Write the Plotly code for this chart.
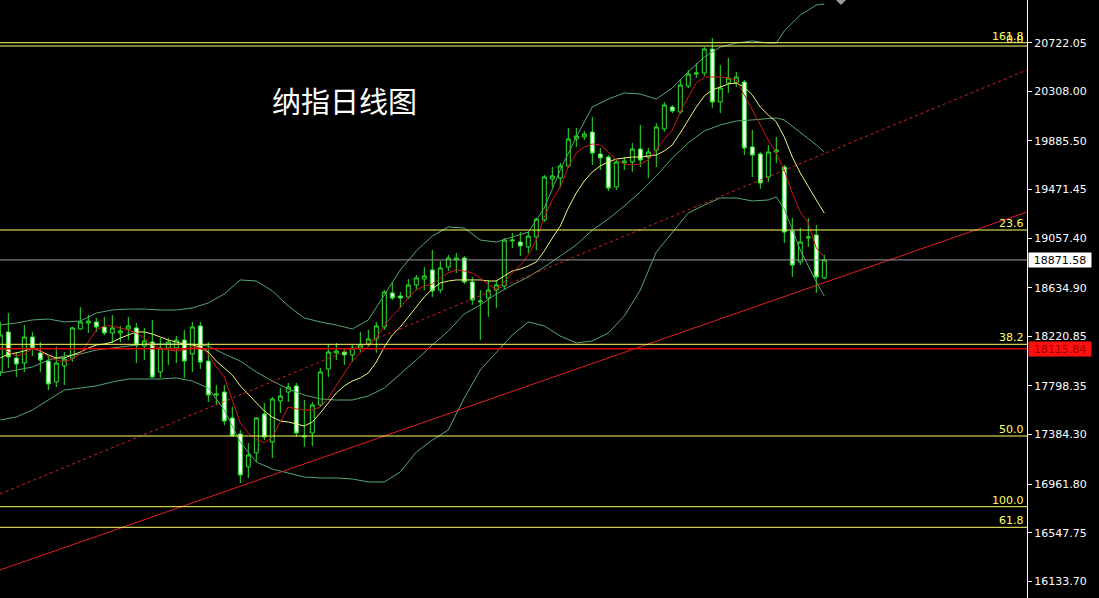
import plotly.graph_objects as go

# ---------------- data ----------------
bars = list(range(104))

open_ = [17917, 18258, 18036, 17993, 18215, 18079, 18010, 17832, 17968, 18036,
         18283, 18334, 18343, 18300, 18249, 18249, 18283, 18292, 18138, 18172,
         17917, 18121, 18121, 18189, 18070, 18309, 18010, 17721, 17746, 17525,
         17389, 17108, 17227, 17559, 17320, 17670, 17746, 17798, 17363, 17397,
         17636, 17942, 18079, 18087, 18062, 18121, 18155, 18198, 18300, 18590,
         18564, 18556, 18658, 18709, 18786, 18615, 18811, 18871, 18888, 18684,
         18513, 18547, 18615, 18649, 19033, 19024, 18982, 19067, 19212, 19561,
         19569, 19672, 19902, 19919, 19961, 19774, 19748, 19493, 19697, 19706,
         19816, 19748, 19808, 19987, 20174, 20132, 20353, 20455, 20464, 20668,
         20217, 20379, 20379, 20387, 19834, 19774, 19578, 19791, 19663, 19118,
         18854, 19058, 19084, 18718]

high = [18343, 18419, 18087, 18317, 18258, 18172, 18053, 18130, 18087, 18300,
        18470, 18402, 18377, 18385, 18402, 18309, 18385, 18334, 18292, 18360,
        18206, 18206, 18223, 18275, 18343, 18343, 18172, 17806, 17806, 17619,
        17423, 17312, 17533, 17653, 17704, 17780, 17823, 17823, 17678, 17661,
        17951, 18147, 18164, 18121, 18147, 18258, 18275, 18343, 18615, 18675,
        18598, 18709, 18743, 18811, 18956, 18862, 18914, 18931, 18905, 18726,
        18615, 18701, 18701, 19058, 19101, 19109, 19109, 19229, 19595, 19663,
        19697, 19995, 19995, 19970, 20089, 19825, 19765, 19723, 19748, 19868,
        20021, 19825, 20038, 20217, 20191, 20413, 20490, 20549, 20685, 20762,
        20532, 20592, 20473, 20404, 19978, 19791, 19851, 19919, 19680, 19229,
        19143, 19229, 19169, 18914]

low = [17883, 17951, 17874, 17917, 18053, 17917, 17763, 17789, 17806, 18002,
       18275, 18249, 18258, 18232, 18164, 18172, 18189, 17993, 18019, 17866,
       17866, 17976, 17993, 17866, 17917, 17942, 17661, 17636, 17465, 17363,
       16971, 17014, 17150, 17337, 17184, 17567, 17661, 17363, 17278, 17286,
       17619, 17874, 18019, 17976, 18002, 18087, 18130, 18079, 18275, 18530,
       18462, 18539, 18615, 18615, 18556, 18590, 18777, 18760, 18666, 18488,
       18189, 18385, 18462, 18615, 18973, 18905, 18931, 18956, 19195, 19493,
       19484, 19655, 19834, 19893, 19680, 19638, 19459, 19467, 19638, 19621,
       19663, 19569, 19663, 19961, 20123, 20115, 20336, 20421, 20438, 20166,
       20123, 20294, 20345, 19765, 19578, 19476, 19535, 19697, 19016, 18726,
       18828, 18982, 18590, 18709]

close = [18232, 18045, 17985, 18215, 18121, 18019, 17815, 17993, 18027, 18292,
         18343, 18351, 18300, 18249, 18292, 18266, 18309, 18147, 18181, 17874,
         18121, 18172, 18189, 18010, 18300, 18002, 17721, 17729, 17499, 17372,
         17039, 17210, 17525, 17363, 17687, 17712, 17789, 17397, 17372, 17636,
         17917, 18087, 18096, 18062, 18121, 18147, 18198, 18309, 18598, 18547,
         18547, 18658, 18718, 18735, 18607, 18803, 18888, 18888, 18684, 18530,
         18522, 18615, 18658, 19041, 19041, 18990, 19075, 19220, 19578, 19587,
         19672, 19902, 19927, 19944, 19782, 19740, 19484, 19706, 19714, 19816,
         19723, 19791, 20004, 20191, 20140, 20362, 20455, 20464, 20668, 20217,
         20336, 20421, 20430, 19825, 19765, 19527, 19791, 19808, 19109, 18828,
         19024, 19067, 18726, 18871.58]

ma_fast = [18130, 18087, 18053, 18070, 18113, 18096, 18045, 18019, 18002, 18027,
           18070, 18172, 18275, 18309, 18309, 18292, 18275, 18249, 18206, 18147,
           18121, 18104, 18096, 18104, 18130, 18121, 18070, 17959, 17874, 17678,
           17482, 17397, 17346, 17312, 17363, 17491, 17619, 17602, 17593, 17593,
           17619, 17695, 17806, 17908, 18010, 18079, 18130, 18206, 18309, 18394,
           18462, 18556, 18615, 18649, 18666, 18718, 18760, 18786, 18777, 18760,
           18718, 18658, 18624, 18684, 18760, 18828, 18914, 19041, 19237, 19382,
           19493, 19663, 19782, 19834, 19859, 19851, 19791, 19723, 19689, 19680,
           19689, 19723, 19808, 19902, 19978, 20132, 20260, 20379, 20430, 20430,
           20430, 20421, 20404, 20277, 20149, 20021, 19893, 19782, 19638, 19442,
           19280, 19186, 18973, 18897]

ma_slow = [18036, 18070, 18079, 18096, 18121, 18096, 18062, 18036, 18036, 18062,
           18087, 18121, 18147, 18155, 18172, 18206, 18232, 18258, 18258, 18240,
           18215, 18189, 18172, 18155, 18147, 18130, 18087, 18010, 17951, 17891,
           17798, 17729, 17653, 17584, 17533, 17499, 17491, 17474, 17457, 17491,
           17567, 17653, 17738, 17798, 17840, 17866, 17908, 18002, 18130, 18232,
           18300, 18385, 18471, 18556, 18624, 18675, 18692, 18701, 18701, 18701,
           18701, 18692, 18692, 18735, 18777, 18794, 18820, 18854, 18948, 19058,
           19160, 19314, 19442, 19544, 19621, 19672, 19706, 19731, 19740, 19748,
           19748, 19757, 19765, 19800, 19851, 19953, 20064, 20174, 20268, 20319,
           20345, 20370, 20379, 20345, 20277, 20174, 20106, 20047, 19919, 19748,
           19612, 19493, 19382, 19271]

bb_x = [0, 2, 4, 6, 8, 10, 12, 14, 16, 18, 20, 22, 24, 26, 28, 30, 32, 34, 36, 38,
        40, 42, 44, 46, 48, 50, 52, 54, 56, 58, 60, 62, 64, 66, 68, 70, 72, 74, 76, 78,
        80, 82, 84, 86, 88, 90, 92, 94, 96, 97, 98, 100, 102, 103]

bb_upper = [18317, 18334, 18360, 18368, 18343, 18351, 18419, 18445, 18453, 18453,
            18445, 18445, 18462, 18505, 18581, 18701, 18692, 18607, 18479, 18377,
            18343, 18317, 18283, 18360, 18573, 18786, 18948, 19075, 19152, 19143,
            19041, 19024, 19067, 19109, 19314, 19638, 19919, 20174, 20242, 20294,
            20285, 20242, 20336, 20473, 20600, 20685, 20719, 20737, 20719, 20719,
            20822, 20958, 21043, 21051]

bb_mid = [17908, 17934, 17959, 18019, 18053, 18070, 18104, 18121, 18138, 18155,
          18155, 18155, 18155, 18138, 18070, 18010, 17917, 17840, 17772, 17721,
          17687, 17678, 17678, 17712, 17780, 17900, 18019, 18147, 18266, 18411,
          18488, 18581, 18658, 18726, 18811, 18905, 18999, 19126, 19220, 19331,
          19450, 19587, 19740, 19868, 19970, 20021, 20055, 20064, 20072, 20081,
          20064, 19961, 19851, 19791]

bb_lower = [17508, 17533, 17593, 17678, 17763, 17780, 17798, 17832, 17857, 17857,
            17857, 17866, 17840, 17780, 17593, 17320, 17150, 17090, 17056, 17022,
            17014, 17014, 17005, 16980, 16980, 17065, 17235, 17337, 17423, 17695,
            17934, 18087, 18232, 18343, 18309, 18223, 18164, 18181, 18249, 18394,
            18615, 18939, 19109, 19271, 19339, 19399, 19399, 19374, 19382, 19408,
            19305, 18956, 18684, 18564]

fib_levels = [20722.05, 20693.9, 19126.4, 18152.7, 17371.5, 16769.2, 16593.7]
fib_labels = ["161.8", "0.0", "23.6", "38.2", "50.0", "100.0", "61.8"]

support_price = 18115.84
last_price = 18871.58

trend_x = [-0.04, 128.34]
trend_solid = [16230, 19280]
trend_dashed = [16877, 20490]

tick_vals = [20722.05, 20308.00, 19885.50, 19471.45, 19057.40, 18634.90,
             18220.85, 17798.35, 17384.30, 16961.80, 16547.75, 16133.70]
tick_text = ["20722.05", "20308.00", "19885.50", "19471.45", "19057.40", "18634.90",
             "18220.85", "17798.35", "17384.30", "16961.80", "16547.75", "16133.70"]

title_text = "纳指日线图"

# ---------------- styles ----------------
GREEN = "#2fe62f"
BB_COL = "#58a673"
RED_MA = "#d01818"
YEL_MA = "#f2f27a"
FIB_COL = "#ffff66"
AX_FONT = dict(family="DejaVu Sans", size=11, color="#ffffff")

fig = go.Figure()

fig.add_trace(go.Candlestick(
    x=bars, open=open_, high=high, low=low, close=close,
    increasing=dict(line=dict(color=GREEN, width=1), fillcolor="#000000"),
    decreasing=dict(line=dict(color=GREEN, width=1), fillcolor="#ffffff"),
    whiskerwidth=0, hoverinfo="skip", showlegend=False))

for ys in (bb_upper, bb_mid, bb_lower):
    fig.add_trace(go.Scatter(x=bb_x, y=ys, mode="lines",
                             line=dict(color=BB_COL, width=1),
                             hoverinfo="skip", showlegend=False))

fig.add_trace(go.Scatter(x=bars, y=ma_slow, mode="lines",
                         line=dict(color=YEL_MA, width=1),
                         hoverinfo="skip", showlegend=False))
fig.add_trace(go.Scatter(x=bars, y=ma_fast, mode="lines",
                         line=dict(color=RED_MA, width=1),
                         hoverinfo="skip", showlegend=False))

fig.add_trace(go.Scatter(x=trend_x, y=trend_dashed, mode="lines",
                         line=dict(color="#d42020", width=1, dash="3px,3px"),
                         hoverinfo="skip", showlegend=False))
fig.add_trace(go.Scatter(x=trend_x, y=trend_solid, mode="lines",
                         line=dict(color="#e02020", width=1),
                         hoverinfo="skip", showlegend=False))

shapes = []
annotations = []
for lvl, lab in zip(fib_levels, fib_labels):
    shapes.append(dict(type="line", xref="paper", x0=0, x1=1, yref="y",
                       y0=lvl, y1=lvl, line=dict(color=FIB_COL, width=1), layer="above"))
    annotations.append(dict(xref="paper", x=1, xanchor="right", xshift=-2,
                            yref="y", y=lvl, yanchor="bottom", yshift=-1,
                            text=lab, showarrow=False, borderpad=0,
                            font=dict(family="DejaVu Sans", size=11, color=FIB_COL)))

shapes.append(dict(type="line", xref="paper", x0=0, x1=1, yref="y",
                   y0=support_price, y1=support_price,
                   line=dict(color="#e00000", width=1.5), layer="above"))
shapes.append(dict(type="line", xref="paper", x0=0, x1=1, yref="y",
                   y0=last_price, y1=last_price,
                   line=dict(color="#9a9aa0", width=1), layer="above"))

# small chart-shift marker (grey arrowhead) at the top edge
shapes.append(dict(type="path", xref="paper", yref="paper",
                   path=f"M {836/1027} 1 L {846/1027} 1 L {841/1027} {1-5/598} Z",
                   fillcolor="#9a9a9a", line=dict(width=0), layer="above"))

annotations.append(dict(xref="paper", x=1, xanchor="left", xshift=1,
                        yref="y", y=last_price, yanchor="middle",
                        text=f"{last_price:.2f}", showarrow=False,
                        bgcolor="#ffffff", borderpad=1, width=60, height=12,
                        font=dict(family="DejaVu Sans", size=11, color="#000000")))
annotations.append(dict(xref="paper", x=1, xanchor="left", xshift=1,
                        yref="y", y=support_price, yanchor="middle",
                        text=f"{support_price:.2f}", showarrow=False,
                        bgcolor="#ff1010", borderpad=1, width=60, height=12,
                        font=dict(family="DejaVu Sans", size=11, color="#a00000")))

annotations.append(dict(xref="paper", x=270 / 1027, xanchor="left",
                        yref="paper", y=(598 - 100) / 598, yanchor="middle",
                        text=title_text, showarrow=False,
                        font=dict(family="Noto Sans CJK SC", size=29, color="#ffffff")))

fig.update_layout(
    width=1099, height=598,
    margin=dict(l=0, r=72, t=0, b=0),
    paper_bgcolor="#000000", plot_bgcolor="#000000",
    showlegend=False, hovermode=False, boxgap=0.3,
    shapes=shapes, annotations=annotations,
    xaxis=dict(range=[-0.04, 128.34], visible=False, showgrid=False,
               zeroline=False, rangeslider=dict(visible=False), fixedrange=True),
    yaxis=dict(range=[15991.4, 21085.8], side="right", showgrid=False,
               zeroline=False, showline=True, linecolor="#ffffff", linewidth=1,
               ticks="outside", ticklen=4, tickcolor="#ffffff",
               tickvals=tick_vals, ticktext=tick_text, tickfont=AX_FONT,
               fixedrange=True),
)

fig.write_html(
    "out.html",
    config={"displayModeBar": False, "staticPlot": True},
    post_script="document.body.style.margin='0px';document.body.style.background='#000';",
)
